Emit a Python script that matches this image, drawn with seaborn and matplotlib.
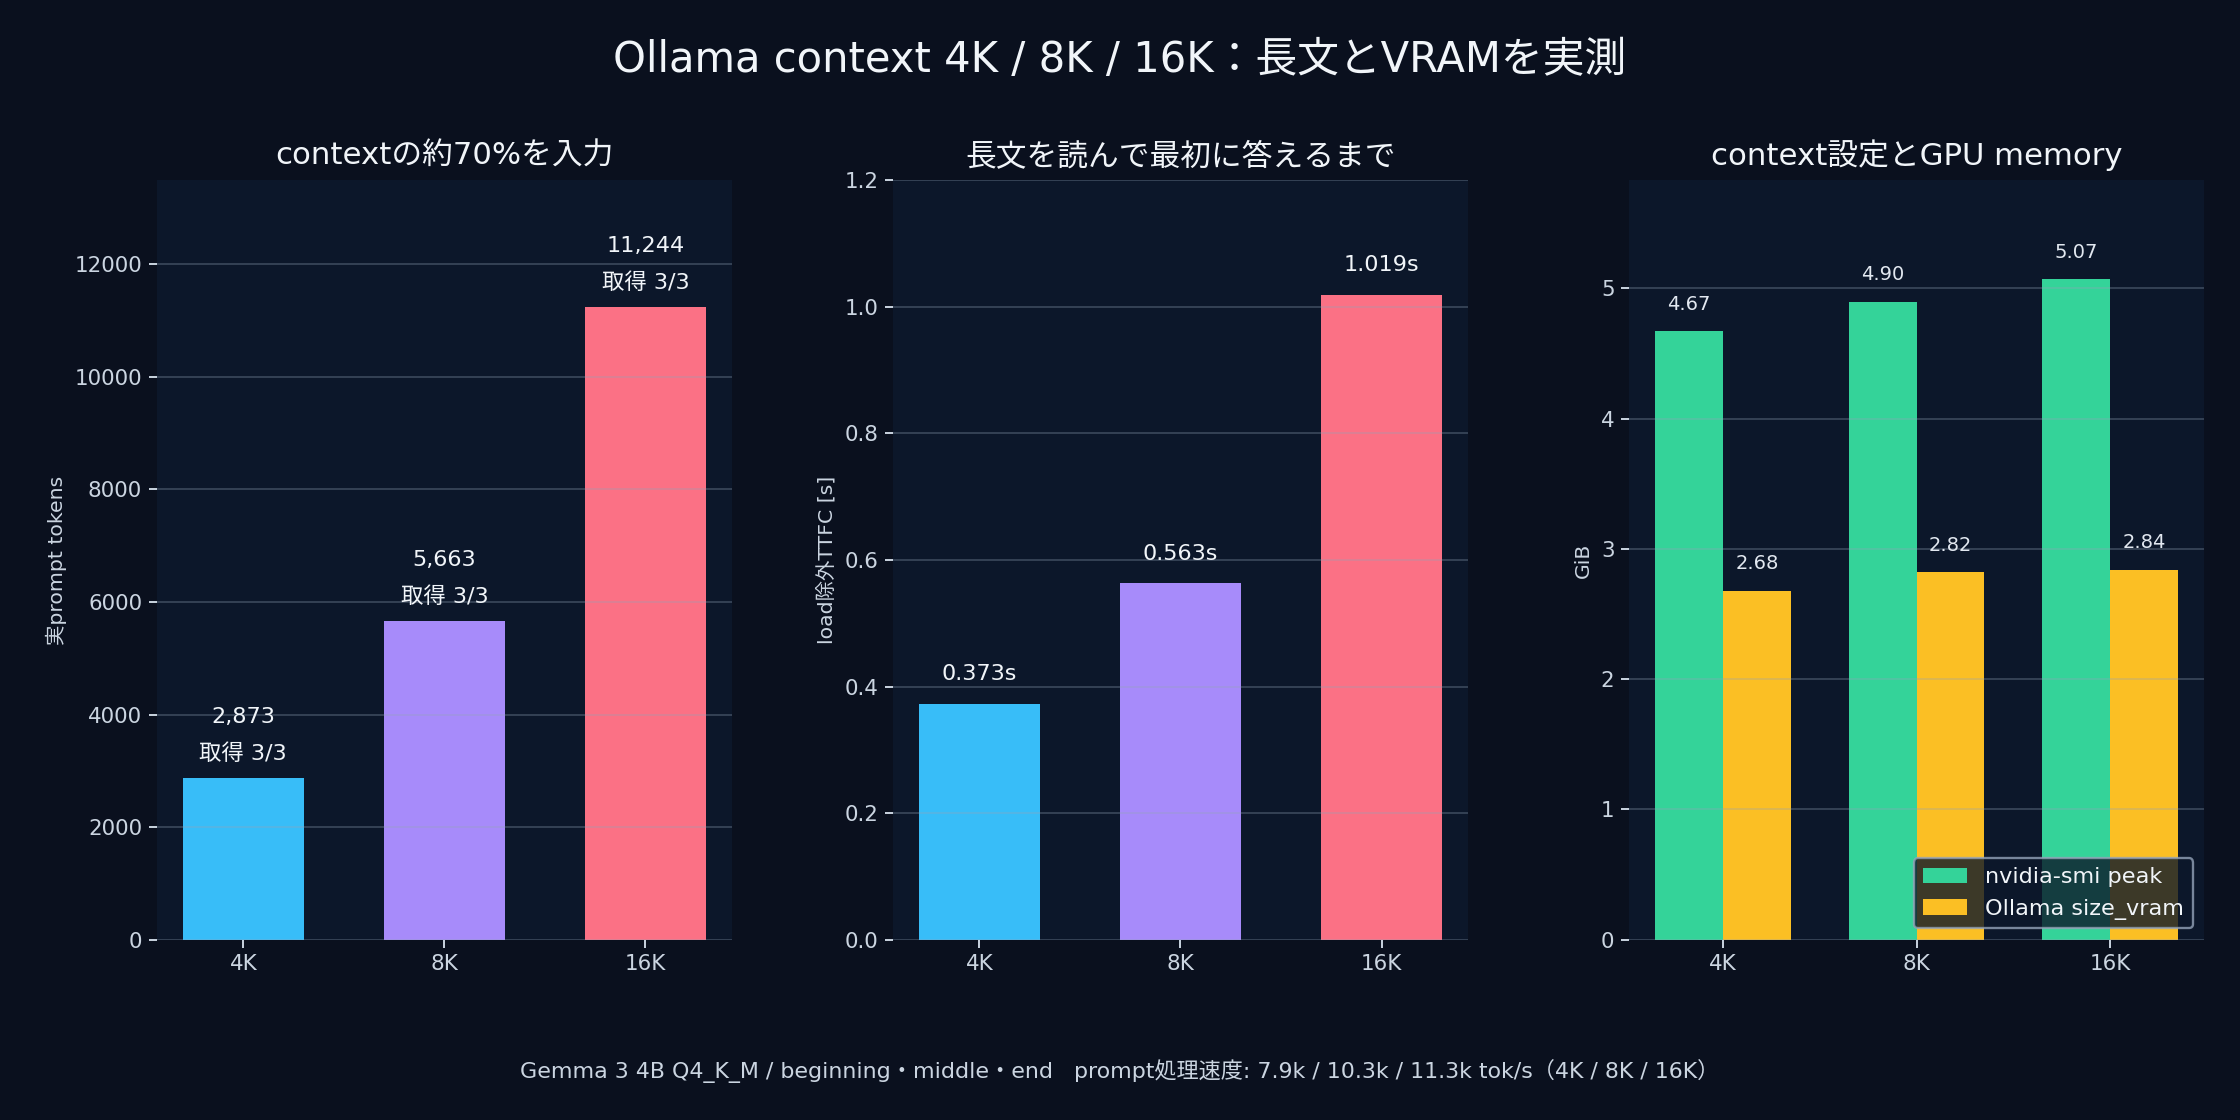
import matplotlib
matplotlib.use("Agg")
import matplotlib.pyplot as plt
import seaborn as sns
import pandas as pd

# ---- data ----
contexts = ["4K", "8K", "16K"]
prompt_tokens = [2873, 5663, 11244]
got_runs = [3, 3, 3]
total_runs = [3, 3, 3]
ttfc_s = [0.373, 0.563, 1.019]
smi_peak_gib = [4.67, 4.90, 5.07]
size_vram_gib = [2.68, 2.82, 2.84]
series_names = ["nvidia-smi peak", "Ollama size_vram"]
prompt_speed = ["7.9k", "10.3k", "11.3k"]

bar_colors = ["#38bdf8", "#a78bfa", "#fb7185"]
mem_colors = ["#34d399", "#fbbf24"]

FIG_BG = "#0a101e"
AX_BG = "#0c172a"
TXT = "#f1f5f9"
TICK = "#cbd5e1"

sns.set_theme(style="dark")
plt.rcParams["font.family"] = ["DejaVu Sans", "Noto Sans CJK JP"]
plt.rcParams.update({
    "figure.facecolor": FIG_BG,
    "axes.facecolor": AX_BG,
    "axes.edgecolor": AX_BG,
    "text.color": TXT,
    "axes.labelcolor": TICK,
    "xtick.color": TICK,
    "ytick.color": TICK,
    "xtick.labelcolor": TICK,
    "ytick.labelcolor": TICK,
    "axes.titlecolor": TXT,
})

fig, axes = plt.subplots(1, 3, figsize=(16, 8), dpi=140)
fig.subplots_adjust(left=0.070, right=0.984, bottom=0.161, top=0.839, wspace=0.28)

def style_ax(ax):
    for s in ax.spines.values():
        s.set_visible(False)
    ax.grid(axis="y", color="#94a3b8", alpha=0.3, linewidth=1.0)
    ax.grid(axis="x", visible=False)
    ax.set_axisbelow(False)
    ax.tick_params(axis="both", which="major", length=4, width=1, labelsize=11,
                   color=TICK, bottom=True, left=True)
    ax.set_xlabel("")

bar_kw = dict(saturation=1, errorbar=None, linewidth=0, edgecolor="none")

# ---- panel 1 ----
ax = axes[0]
sns.barplot(x=contexts, y=prompt_tokens, hue=contexts, palette=bar_colors,
            width=0.6, legend=False, ax=ax, **bar_kw)
ax.relim(); ax.autoscale(axis="x")
ax.set_ylim(0, max(prompt_tokens) * 1.2)
ax.set_yticks(range(0, 12001, 2000))
style_ax(ax)
ax.set_title("contextの約70%を入力", fontsize=15.8, pad=8)
ax.set_ylabel("実prompt tokens", fontsize=10.5)
for i, c in enumerate(ax.containers):
    ax.bar_label(c, labels=[f"{prompt_tokens[i]:,}\n取得 {got_runs[i]}/{total_runs[i]}"],
                 padding=7, fontsize=11.5, color=TXT, linespacing=2.0)

# ---- panel 2 ----
ax = axes[1]
sns.barplot(x=contexts, y=ttfc_s, hue=contexts, palette=bar_colors,
            width=0.6, legend=False, ax=ax, **bar_kw)
ax.relim(); ax.autoscale(axis="x")
ax.set_ylim(0, 1.2)
ax.set_yticks([0.0, 0.2, 0.4, 0.6, 0.8, 1.0, 1.2])
ax.yaxis.set_major_formatter(matplotlib.ticker.FormatStrFormatter("%.1f"))
style_ax(ax)
ax.set_title("長文を読んで最初に答えるまで", fontsize=15.8, pad=8)
ax.set_ylabel("load除外TTFC [s]", fontsize=10.5)
for i, c in enumerate(ax.containers):
    ax.bar_label(c, labels=[f"{ttfc_s[i]:.3f}s"], padding=10, fontsize=11.5, color=TXT)

# ---- panel 3 ----
ax = axes[2]
df3 = pd.DataFrame({
    "context": contexts * 2,
    "GiB": smi_peak_gib + size_vram_gib,
    "series": [series_names[0]] * 3 + [series_names[1]] * 3,
})
sns.barplot(data=df3, x="context", y="GiB", hue="series", palette=mem_colors,
            width=0.7, ax=ax, **bar_kw)
ax.relim(); ax.autoscale(axis="x")
ax.set_ylim(0, max(smi_peak_gib) * 1.15)
ax.set_yticks(range(0, 6))
style_ax(ax)
ax.set_title("context設定とGPU memory", fontsize=15.8, pad=8)
ax.set_ylabel("GiB", fontsize=10.5)
for c, vals in zip(ax.containers, [smi_peak_gib, size_vram_gib]):
    ax.bar_label(c, labels=[f"{v:.2f}" for v in vals], padding=9, fontsize=10, color="#e2e8f0")
leg = ax.legend(loc="lower right", fontsize=11.5, facecolor=AX_BG, edgecolor="#94a3b8",
                framealpha=0.8, labelcolor=TXT, title=None)
leg.get_frame().set_linewidth(1.2)

fig.text(0.5, 0.946, "Ollama context 4K / 8K / 16K：長文とVRAMを実測",
         ha="center", va="center", fontsize=21.5, color=TXT)
fig.text(0.5, 0.044,
         "Gemma 3 4B Q4_K_M / beginning・middle・end   prompt処理速度: "
         + " / ".join(prompt_speed) + " tok/s（" + " / ".join(contexts) + "）",
         ha="center", va="center", fontsize=11.4, color=TICK)

fig.savefig("out.png", dpi=140, facecolor=FIG_BG)
